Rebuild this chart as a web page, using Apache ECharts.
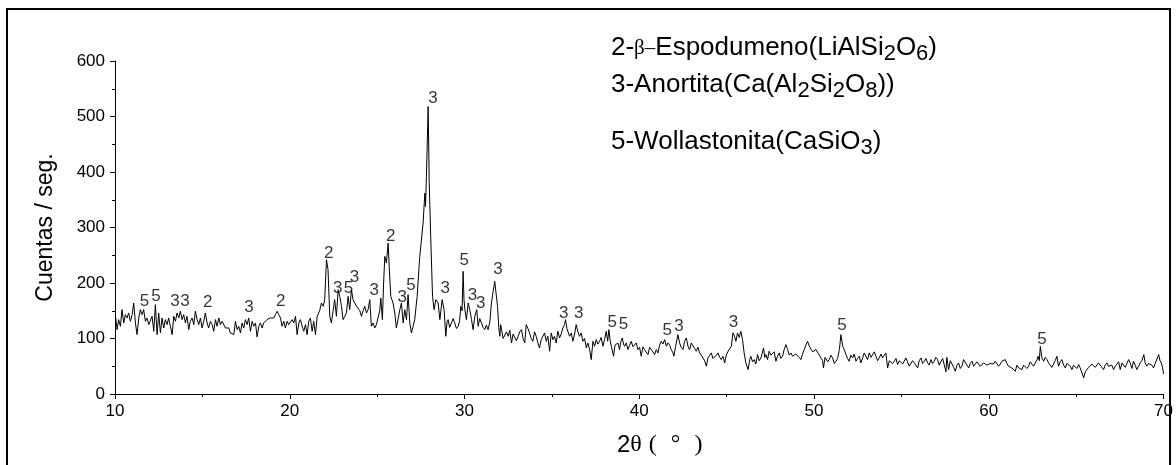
<!DOCTYPE html>
<html><head><meta charset="utf-8">
<script src="https://cdn.jsdelivr.net/npm/echarts@6/dist/echarts.min.js"></script>
<style>html,body{margin:0;padding:0;background:#fff}#c{width:1176px;height:465px}</style>
</head><body><div id="c"></div>
<script>
// 2θ positions (degrees)
var twoTheta = [
10.02,10.12,10.21,10.31,10.40,10.50,10.59,10.69,10.78,10.88,10.98,11.07,11.17,11.26,11.36,11.45,11.55,11.64,11.74,11.83,11.93,12.02,12.12,12.22,12.31,12.41,12.50,12.60,12.69,12.79,12.88,12.98,13.07,13.17,13.27,13.36,13.46,13.55,13.65,13.74,13.84,13.93,14.03,14.12,14.22,14.31,14.41,14.51,14.60,14.70,14.79,14.89,14.98,15.08,15.17,15.27,15.36,15.46,15.56,15.65,15.75,15.84,15.94,16.03,16.13,16.22,16.32,16.41,16.51,16.60,16.70,16.80,16.89,16.99,17.08,17.18,17.27,17.37,17.46,17.56,17.65,17.75,17.85,17.94,18.04,18.13,18.23,18.32,18.42,18.51,18.61,18.70,18.80,18.89,18.99,19.09,19.18,19.28,19.37,19.47,19.56,19.66,19.75,19.85,19.94,20.04,20.14,20.23,20.33,20.42,20.52,20.61,20.71,20.80,20.90,20.99,21.09,21.18,21.28,21.37,21.47,21.57,
21.71,21.81,21.91,22.00,22.10,22.19,22.29,22.38,22.48,22.57,22.67,22.77,22.86,22.96,23.05,23.15,23.24,23.34,23.43,23.53,23.62,23.72,23.82,23.91,24.01,24.10,24.20,24.29,24.39,24.48,24.58,24.67,24.77,24.86,24.96,25.06,25.15,25.21,25.30,25.37,25.44,25.53,25.63,25.69,25.78,25.91,26.01,26.10,26.20,26.30,26.39,26.49,26.58,26.68,26.77,26.87,26.96,27.06,27.15,27.29,27.40,27.44,27.54,27.63,27.73,27.77,27.82,27.92,27.98,28.07,28.17,28.26,28.36,28.49,28.59,28.72,28.83,28.93,
29.00,29.06,29.15,29.25,29.35,29.44,29.54,29.64,29.72,29.79,29.86,29.92,29.97,30.02,30.11,30.21,30.30,30.40,30.49,30.59,30.70,30.78,30.87,30.97,31.06,31.16,31.25,31.35,31.45,31.54,31.64,31.73,31.81,31.89,31.96,32.02,32.07,32.12,32.21,32.31,32.40,32.50,32.59,32.69,32.78,32.88,32.97,33.07,33.16,33.26,33.35,33.45,33.53,
33.63,33.72,33.82,33.91,34.01,34.10,34.20,34.29,34.39,34.48,34.58,34.68,34.77,34.87,34.96,35.06,35.15,35.25,35.34,35.44,35.53,35.63,35.72,35.78,35.86,35.92,36.01,36.11,36.20,36.30,36.39,36.49,36.58,36.68,36.77,36.87,36.97,37.06,37.16,37.25,37.35,37.44,37.54,37.63,37.73,37.82,37.92,38.01,38.11,38.19,38.26,38.34,38.40,38.53,38.61,38.68,38.78,38.87,38.95,39.03,39.10,39.16,39.26,39.35,39.45,39.54,39.64,39.73,39.83,39.92,40.02,40.11,40.21,40.30,40.40,40.50,40.59,40.69,40.78,40.88,40.97,41.07,41.16,41.26,41.35,41.45,41.55,41.64,41.74,41.83,41.93,41.98,42.08,42.21,42.31,42.40,42.50,42.59,42.69,42.79,42.88,42.98,43.07,43.17,43.26,43.36,43.45,43.55,43.64,43.74,43.84,43.93,44.03,44.12,44.22,44.31,44.41,44.50,44.60,44.69,44.79,44.89,44.98,45.08,45.17,45.27,45.36,
45.45,45.53,45.62,45.72,45.81,45.91,46.00,46.10,46.23,46.32,46.38,46.48,46.58,46.67,46.77,46.86,46.96,47.04,47.11,47.18,47.24,47.34,47.43,47.53,47.62,47.72,47.82,47.91,48.01,48.10,48.20,48.29,48.39,48.49,48.58,48.68,48.77,48.87,48.96,49.06,49.15,49.25,49.34,49.44,49.53,49.63,49.73,49.82,49.92,50.01,50.11,50.20,50.30,50.39,50.49,50.54,50.63,50.68,50.78,50.87,50.97,51.06,51.16,51.25,51.35,51.45,51.54,51.64,51.73,51.83,51.92,52.01,52.11,52.21,52.30,52.40,52.49,52.59,52.68,52.78,52.87,52.97,53.06,53.16,53.26,53.35,53.45,53.54,53.64,53.73,53.83,53.92,54.02,54.11,54.21,54.31,54.40,54.50,54.59,54.69,54.78,54.88,54.97,55.07,55.16,55.26,55.35,55.45,55.54,55.64,55.74,55.83,55.93,56.02,56.12,56.21,56.31,56.40,56.50,56.59,56.69,56.78,56.88,56.97,57.07,57.16,57.26,57.36,57.45,57.55,57.60,
57.70,57.80,57.89,57.99,58.08,58.18,58.27,58.37,58.46,58.56,58.65,58.75,58.85,58.94,59.04,59.13,59.23,59.32,59.42,59.51,59.61,59.70,59.80,59.89,59.99,60.08,60.18,60.27,60.37,60.46,60.56,60.66,60.75,60.85,60.94,61.04,61.13,61.23,61.32,61.42,61.52,61.61,61.71,61.80,61.90,61.99,62.09,62.18,62.28,62.37,62.47,62.56,62.66,62.76,62.82,62.89,62.95,63.04,63.14,63.23,63.33,63.42,63.52,63.61,63.71,63.80,63.90,63.99,64.09,64.18,64.28,64.38,64.47,64.57,64.66,64.76,64.85,64.95,65.04,65.14,65.23,65.33,65.43,65.52,65.62,65.71,65.81,65.90,66.00,66.09,66.19,66.28,66.38,66.47,66.57,66.66,66.76,66.85,66.95,67.04,67.14,67.24,67.33,67.43,67.52,67.62,67.71,67.81,67.90,68.00,68.09,68.19,68.28,68.38,68.47,68.57,68.66,68.76,68.87,68.95,69.04,69.14,69.23,69.33,69.43,69.52,69.62,69.72,69.80,69.87,69.95,70.00
];
// Counts per second
var counts = [
143,116,134,122,152,128,143,137,146,131,143,164,128,107,137,152,143,152,131,137,125,122,140,113,161,107,146,110,137,119,134,125,137,122,107,140,131,146,137,149,134,143,128,140,116,131,137,125,149,134,125,137,119,131,146,128,119,131,125,113,134,122,137,125,131,128,119,116,119,110,113,107,131,116,122,110,128,119,134,125,137,113,131,122,128,103,122,128,119,128,125,134,131,137,134,137,143,149,143,137,122,131,119,131,125,122,134,128,140,107,128,134,122,113,125,107,131,137,113,131,107,140,
150,164,158,170,242,224,140,128,150,170,140,188,176,158,134,140,146,176,152,188,170,164,158,158,150,140,150,158,146,152,170,122,128,119,125,128,150,173,134,200,248,236,272,230,176,164,146,119,135,152,164,128,152,134,179,128,110,122,134,176,230,248,250,308,362,338,392,518,380,278,176,152,170,164,134,170,152,104,
130,134,120,128,136,128,118,122,132,158,150,221,170,152,134,164,152,134,116,140,152,122,136,128,120,116,124,116,130,164,185,203,180,158,120,104,125,116,100,98,112,104,115,92,108,110,96,104,112,116,100,92,125,
118,110,100,95,112,104,92,83,98,101,110,95,104,77,110,98,104,92,113,101,108,119,125,134,118,116,104,110,95,108,125,112,104,110,95,100,83,92,80,62,95,86,98,90,95,102,86,98,113,95,116,95,86,68,88,86,92,80,95,101,90,86,92,80,88,95,85,86,92,80,84,68,85,80,78,71,84,80,76,71,80,74,88,95,90,98,86,92,88,80,74,68,86,107,92,84,80,95,101,86,80,92,89,82,77,84,74,70,68,60,50,65,70,74,64,65,70,74,66,62,68,56,70,77,80,86,110,
104,95,110,102,113,98,74,56,44,62,68,58,62,54,71,60,65,74,83,66,71,62,77,70,68,76,59,68,74,64,68,80,89,80,70,74,68,65,72,71,66,62,72,80,88,95,86,83,76,74,80,77,70,68,60,47,66,68,58,62,70,65,55,59,64,80,107,86,80,71,64,59,70,65,72,59,64,68,56,65,74,71,62,74,66,65,76,68,60,65,72,65,70,74,47,60,62,55,59,64,53,60,62,54,56,65,62,50,53,60,62,52,47,60,65,55,59,64,56,52,62,55,59,66,62,52,50,64,62,40,66,
44,60,59,48,41,52,56,46,50,62,59,52,47,55,59,50,53,58,56,50,53,56,59,52,50,55,56,54,59,56,50,54,59,58,62,55,50,52,47,50,41,52,47,50,44,52,53,46,50,58,59,50,56,62,68,60,86,65,59,66,62,56,56,48,50,60,68,50,58,62,52,47,55,53,50,44,52,50,46,53,47,38,29,40,41,48,50,54,56,48,50,56,53,48,44,52,56,50,47,52,44,50,53,58,44,56,59,48,50,62,56,46,59,52,44,50,56,60,71,56,50,55,56,52,47,55,53,71,60,56,47,36
];
// Phase labels over peaks: label centre position and text
var peakX = [11.68,12.35,13.43,14.00,15.31,17.67,19.48,22.23,22.75,23.36,23.70,24.84,25.78,26.43,26.93,28.20,28.89,29.98,30.45,30.93,31.92,35.68,36.54,38.45,39.10,41.60,42.27,45.39,51.60,63.05];
var peakY = [167,176,167,167,165,156,167,254,191,191,211,186,284,174,195,533,191,240,177,164,224,146,146,129,125,115,122,129,123,99];
var peakText = ['5','5','3','3','2','3','2','2','3','5','3','3','2','3','5','3','3','5','3','3','3','3','3','5','5','5','3','3','5','5'];
// Axis ticks
var xTicks = {min:10, max:70, step:10};
var yTicks = {min:0, max:600, step:100};

var lineData = twoTheta.map(function(x,i){return [x, counts[i]];});
var labelData = peakX.map(function(x,i){return [x, peakY[i], peakText[i]];});

var F = '"Liberation Sans", Arial, sans-serif';
var FS = '"Liberation Serif", "Times New Roman", serif';
var rich = {
  n:{fontFamily:F, fontSize:26, fontWeight:'normal', color:'#000', lineHeight:30},
  b:{fontFamily:FS, fontSize:21, fontWeight:'normal', color:'#000', lineHeight:30},
  s:{fontFamily:F, fontSize:22, fontWeight:'normal', color:'#000', lineHeight:18, padding:[12,0,0,0]}
};
function legendTitle(text, top){
  return {text:text, left:611, top:top, padding:0, textStyle:{rich:rich, fontFamily:F, fontSize:26, color:'#000', fontWeight:'normal'}};
}
var chart = echarts.init(document.getElementById('c'), null, {renderer:'canvas'});
chart.setOption({
  backgroundColor:'#fff',
  animation:false,
  title:[
    legendTitle('{n|2-}{b|β–}{n|Espodumeno(LiAlSi}{s|2}{n|O}{s|6}{n|)}', 33),
    legendTitle('{n|3-Anortita(Ca(Al}{s|2}{n|Si}{s|2}{n|O}{s|8}{n|))}', 70),
    legendTitle('{n|5-Wollastonita(CaSiO}{s|3}{n|)}', 127),
    {text:'{a|2}{b|θ}{c|(}{d|°}{c|)}', left:617, top:433, padding:0,
      textStyle:{fontWeight:'normal', rich:{
        a:{fontFamily:F, fontSize:24, fontWeight:'normal', color:'#000'},
        b:{fontFamily:FS, fontSize:24, fontWeight:'normal', color:'#000'},
        c:{fontFamily:FS, fontSize:24, fontWeight:'normal', color:'#000', padding:[0,7,0,7]},
        d:{fontFamily:FS, fontSize:24, fontWeight:'normal', color:'#000', padding:[0,7,0,7]}
      }}}
  ],
  graphic:[{type:'rect', shape:{x:7, y:9, width:1163, height:480}, style:{fill:'none', stroke:'#000', lineWidth:2}, silent:true}],
  grid:{left:115, right:12, top:61, bottom:71, containLabel:false},
  xAxis:{type:'value', min:xTicks.min, max:xTicks.max, interval:xTicks.step,
    axisLine:{lineStyle:{color:'#000', width:1}},
    axisTick:{length:5, lineStyle:{color:'#000'}},
    minorTick:{show:true, splitNumber:2, length:3, lineStyle:{color:'#000'}},
    splitLine:{show:false},
    axisLabel:{color:'#000', fontFamily:F, fontSize:17, margin:9}
  },
  yAxis:{type:'value', min:yTicks.min, max:yTicks.max, interval:yTicks.step,
    name:'Cuentas / seg.', nameLocation:'middle', nameGap:58,
    nameTextStyle:{fontFamily:F, fontSize:23, color:'#000'},
    axisLine:{show:true, lineStyle:{color:'#000', width:1}},
    axisTick:{show:true, length:5, lineStyle:{color:'#000'}},
    minorTick:{show:true, splitNumber:2, length:3, lineStyle:{color:'#000'}},
    splitLine:{show:false},
    axisLabel:{color:'#000', fontFamily:F, fontSize:17, margin:10}
  },
  series:[
    {type:'line', data:lineData, showSymbol:false, symbol:'none', lineStyle:{color:'#000', width:1}, silent:true},
    {type:'scatter', data:labelData, symbolSize:0, silent:true,
      label:{show:true, position:'inside', color:'#000', fontFamily:F, fontSize:17, formatter:function(p){return p.value[2];}}}
  ]
});
</script></body></html>
